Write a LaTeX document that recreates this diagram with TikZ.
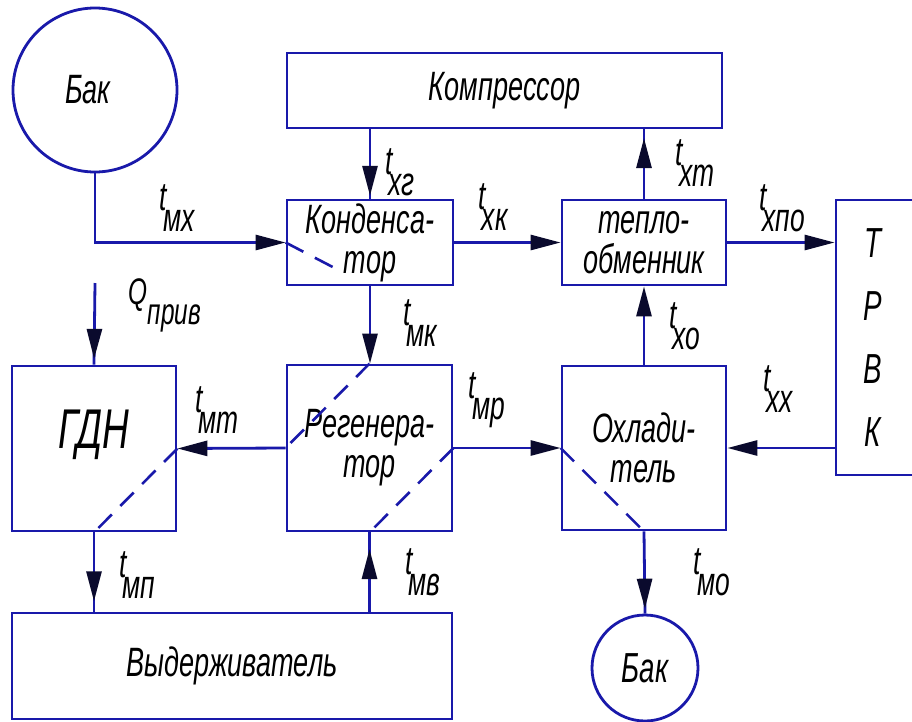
\documentclass[tikz,border=0pt]{standalone}
\usepackage{fontspec}
\newfontfamily\gost{Liberation Sans}[FakeStretch=0.66]
\usetikzlibrary{arrows.meta,calc,decorations.markings}
\definecolor{lc}{RGB}{25,25,170}
\definecolor{ac}{RGB}{10,10,45}
\newcommand{\tlab}[1]{t\kern-4pt\raisebox{-21pt}{#1}}
\newcommand{\fs}[1]{\fontsize{#1}{#1}\selectfont}
\begin{document}
\begin{tikzpicture}[x=1pt,y=-1pt,
  box/.style={draw=lc,line width=2.8pt,rectangle,inner sep=0pt,align=center,
    font=\gost\itshape\fontsize{41}{40}\selectfont},
  tank/.style={draw=lc,line width=2.8pt,circle,inner sep=0pt,font=\gost\itshape},
  flow/.style={draw=lc,line width=2.8pt},
  tipend/.style={-{Triangle[length=30pt,width=15pt,color=ac]}},
  tipat/.style={postaction={decorate},decoration={markings,
    mark=at position #1 with {\arrow{Triangle[length=30pt,width=15pt,color=ac]}}}},
  sepline/.style={draw=lc,line width=2.6pt,dash pattern=on 19pt off 12pt},
  lab/.style={font=\gost\itshape\fontsize{40}{40}\selectfont,inner sep=0pt}
]
\useasboundingbox[fill=white] (0,0) rectangle (912,721);

% blocks
\node[tank,minimum size=164pt,font=\gost\itshape\fs{41}] (bak1) at (95,90) {\kern-14pt Бак};
\node[box,minimum width=435pt,minimum height=75pt] (komp) at (504.5,90.5) {Компрессор};
\node[box,minimum width=166pt,minimum height=85pt] (kond) at (370,242.5) {Конденса-\\тор};
\node[box,minimum width=164pt,minimum height=85pt] (tep) at (644,242.5) {тепло-\\обменник};
\node[box,minimum width=94pt,minimum height=275pt] (trvk) at (883,337.5) {};
\node[lab,align=center,font=\gost\itshape\fontsize{42}{63}\selectfont] (trvkt) at (873,337.5) {Т\\Р\\В\\К};
\node[box,minimum width=165pt,minimum height=166pt] (reg) at (369.5,448) {Регенера-\\тор};
\node[box,minimum width=164pt,minimum height=164pt] (ohl) at (644,448) {Охлади-\\тель};
\node[box,minimum width=164pt,minimum height=165pt,font=\gost\itshape\fs{56}] (gdn) at (94,448.5) {\raisebox{14pt}[\height][\depth]{ГДН}};
\node[box,minimum width=440pt,minimum height=106pt] (vyd) at (232,666) {Выдерживатель};
\node[tank,minimum size=106pt,font=\gost\itshape\fs{42}] (bak2) at (645,668) {Бак};
\coordinate (qtop) at (95,283);

% connectors
\draw[flow,tipend] (bak1.south) -- (bak1.south |- kond.west) -- (kond.west);
\draw[flow,tipat=0.96] (kond.north |- komp.south) -- (kond.north);
\draw[flow,tipat=0.875] (tep.north) -- (tep.north |- komp.south);
\draw[flow,tipend] (kond.south) -- (kond.south |- reg.north);
\draw[flow,tipend] (kond.east) -- (tep.west);
\draw[flow,tipend] (tep.east) -- (tep.east -| trvk.west);
\draw[flow,tipend] (ohl.north) -- (tep.south);
\draw[flow,tipend] (trvk.west |- ohl.east) -- (ohl.east);
\draw[flow,tipend] (reg.east) -- (ohl.west);
\draw[flow,tipend] (reg.west) -- (gdn.east);
\draw[flow,tipat=0.93] (qtop) -- (gdn.north);
\draw[flow,tipat=0.87] (gdn.south) -- (gdn.south |- vyd.north);
\draw[flow,tipat=0.79] (reg.south |- vyd.north) -- (reg.south);
\draw[flow,tipat=0.94] (ohl.south) -- (bak2.north);

% dashed separators
\draw[sepline,dash pattern=on 20pt off 13pt] (kond.west) -- ($(kond.west)!0.57!(kond.south)$);
\draw[sepline] (reg.north) -- (reg.west);
\draw[sepline] (reg.east) -- (reg.south);
\draw[sepline] (gdn.east) -- (gdn.south);
\draw[sepline] (ohl.west) -- (ohl.south);

% labels
\node[lab] (lmx) at (177,208) {\tlab{мх}};
\node[lab] (lxg) at (400,172) {\tlab{хг}};
\node[lab] (lxk) at (493,207) {\tlab{хк}};
\node[lab] (lxt) at (695,163) {\tlab{хт}};
\node[lab] (lxpo) at (782,208) {\tlab{хпо}};
\node[lab] (lxo) at (685,326) {\tlab{хо}};
\node[lab] (lxx) at (778,389) {\tlab{хх}};
\node[lab,font=\gost\itshape\fs{37}] (lq) at (165,305) {Q\raisebox{-20pt}{прив}};
\node[lab] (lmt) at (217,410) {\tlab{мт}};
\node[lab] (lmk) at (420,323) {\tlab{мк}};
\node[lab] (lmr) at (487,400) {\tlab{мр}};
\node[lab] (lmp) at (137,575) {\tlab{мп}};
\node[lab] (lmv) at (423,572) {\tlab{мв}};
\node[lab] (lmo) at (712,572) {\tlab{мо}};
\end{tikzpicture}
\end{document}
